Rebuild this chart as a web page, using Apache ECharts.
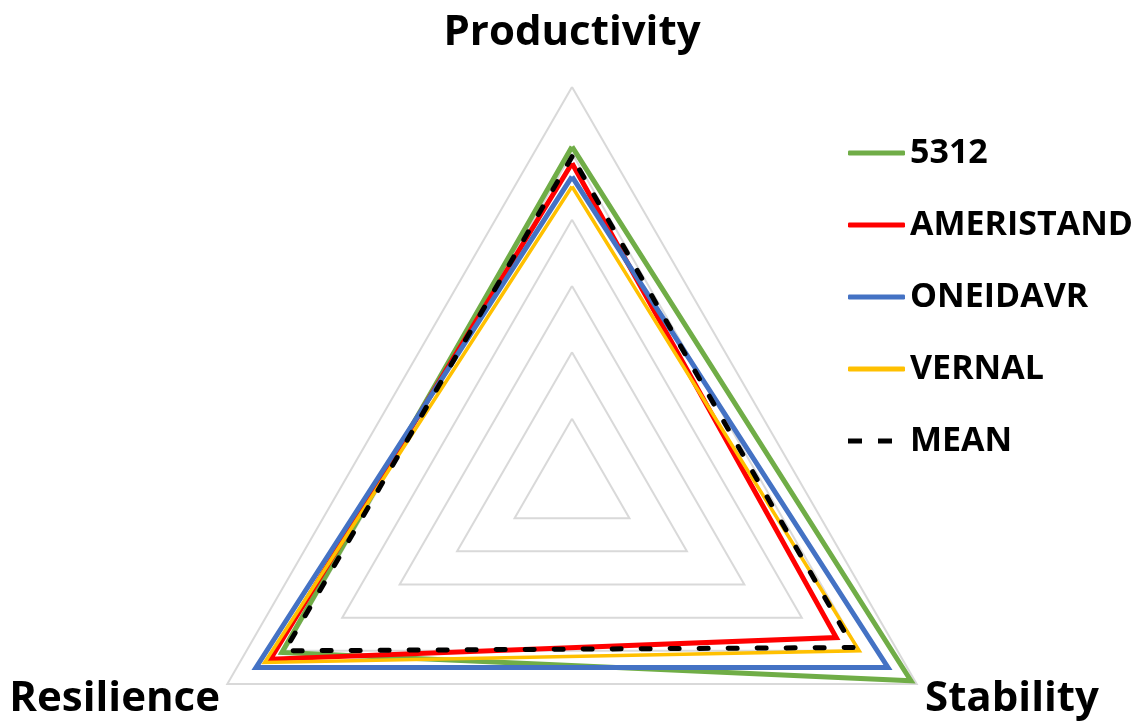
<!DOCTYPE html>
<html>
<head>
<meta charset="utf-8">
<script src="https://cdn.jsdelivr.net/npm/echarts@6/dist/echarts.min.js"></script>
<style>
  html, body { margin: 0; padding: 0; background: #fff; }
  #chart { width: 1137px; height: 726px; }
</style>
</head>
<body>
<div id="chart"></div>
<script>
// 坐标轴（逆时针：上、左下、右下）
const indicators = ["Productivity", "Resilience", "Stability"];
const axisMax = 1.2;

// 各品种数值，顺序同 indicators
const names = ["5312", "AMERISTAND", "ONEIDAVR", "VERNAL", "MEAN"];
const v5312 = [1.02, 1.01, 1.18];
const vAmeristand = [0.97, 1.05, 0.92];
const vOneidavr = [0.93, 1.1, 1.1];
const vVernal = [0.9, 1.07, 1.0];
const vMean = [0.99, 1.0, 0.98];

const colors = ["#70AD47", "#FF0000", "#4472C4", "#FFC000", "#000000"];
const widths = [5, 5, 5, 3.5, 5];
const nameFont = "bold 42px 'Open Sans'";

let chart = echarts.init(document.getElementById("chart"));

let values = [v5312, vAmeristand, vOneidavr, vVernal, vMean];
let seriesData = values.map(function (v, i) {
  return {
    name: names[i],
    value: v,
    symbol: "none",
    lineStyle: {
      color: colors[i],
      width: widths[i],
      type: i === 4 ? [9, 20] : "solid",
      cap: i === 4 ? "round" : "butt",
      join: "miter",
    },
    itemStyle: { color: colors[i] },
  };
});

// 轴名称：上、左下、右下
let nameLabels = [
  { x: 572, y: 54, align: "center", verticalAlign: "bottom" },
  { x: 220, y: 699, align: "right", verticalAlign: "middle" },
  { x: 925, y: 699, align: "left", verticalAlign: "middle" },
].map(function (p, i) {
  return {
    type: "text",
    x: p.x,
    y: p.y,
    style: {
      text: indicators[i],
      font: nameFont,
      fill: "#000",
      align: p.align,
      verticalAlign: p.verticalAlign,
    },
  };
});

let option = {
  backgroundColor: "#fff",
  animation: false,
  legend: {
    orient: "vertical",
    left: 843,
    top: 128,
    itemWidth: 57,
    itemHeight: 5,
    itemGap: 32,
    data: names.map(function (n, i) {
      return {
        name: n,
        icon:
          i === 4
            ? "path://M0,0h14v5h-14zM30,0h14v5h-14zM56.9,2.5h0.1v0.01h-0.1z"
            : "roundRect",
      };
    }),
    textStyle: {
      color: "#000",
      fontFamily: "Open Sans",
      fontWeight: "bold",
      fontSize: 34,
      lineHeight: 40,
    },
  },
  radar: {
    center: [572, 485],
    radius: 398,
    shape: "polygon",
    splitNumber: 6,
    indicator: indicators.map(function (n) {
      return { name: n, min: 0, max: axisMax };
    }),
    axisName: { show: false },
    axisLine: { show: false },
    axisTick: { show: false },
    axisLabel: { show: false },
    splitArea: { show: false },
    splitLine: {
      lineStyle: { color: "#D9D9D9", width: 2 },
    },
  },
  graphic: nameLabels,
  series: [
    {
      type: "radar",
      data: seriesData,
    },
  ],
};

chart.setOption(option);
</script>
</body>
</html>
